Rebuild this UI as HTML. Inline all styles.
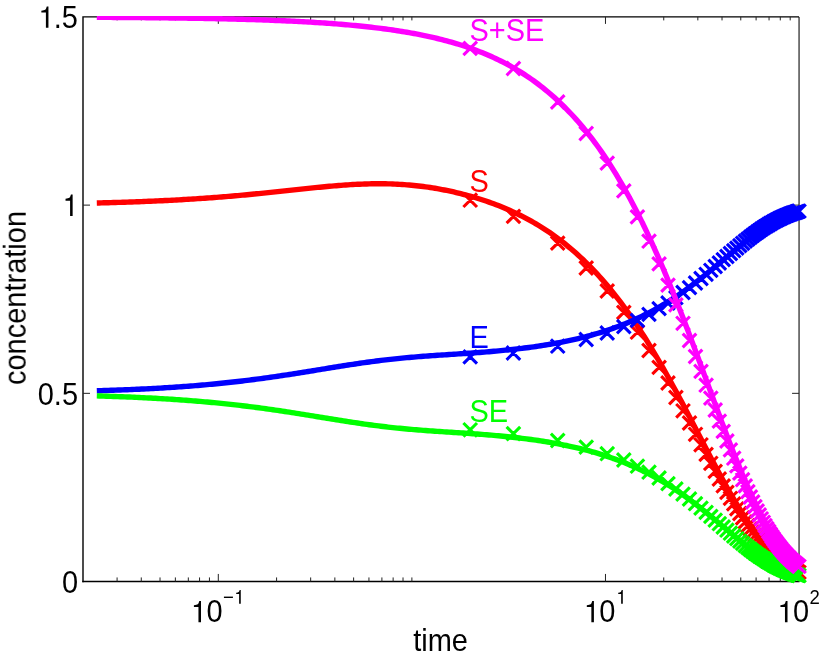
<!DOCTYPE html>
<html><head><meta charset="utf-8"><title>chart</title>
<style>
html,body{margin:0;padding:0;background:#fff;}
body{width:830px;height:659px;overflow:hidden;}
svg{display:block;}
text{font-family:"Liberation Sans",sans-serif;}
</style></head><body>
<svg width="830" height="659" viewBox="0 0 830 659">
<rect width="830" height="659" fill="#fff"/>
<clipPath id="c"><rect x="83.0" y="15.899999999999999" width="716.05" height="565.65"/></clipPath>
<g fill="none" stroke="#000">
<path d="M83.0,582.25V16.9H799.05" stroke-width="1.4"/>
<path d="M82.3,581.55H799.55" stroke-width="1.4"/>
<path d="M799.05,16.9V581.55" stroke-width="1.05"/>
<path d="M117.09,581.55v-4.1M117.09,16.90v3.5M141.27,581.55v-4.1M141.27,16.90v3.5M160.03,581.55v-4.1M160.03,16.90v3.5M175.36,581.55v-4.1M175.36,16.90v3.5M188.32,581.55v-4.1M188.32,16.90v3.5M199.55,581.55v-4.1M199.55,16.90v3.5M209.45,581.55v-4.1M209.45,16.90v3.5M218.31,581.55v-7.6M218.31,16.90v7.0M276.58,581.55v-4.1M276.58,16.90v3.5M310.67,581.55v-4.1M310.67,16.90v3.5M334.85,581.55v-4.1M334.85,16.90v3.5M353.61,581.55v-4.1M353.61,16.90v3.5M368.94,581.55v-4.1M368.94,16.90v3.5M381.90,581.55v-4.1M381.90,16.90v3.5M393.13,581.55v-4.1M393.13,16.90v3.5M403.03,581.55v-4.1M403.03,16.90v3.5M411.89,581.55v-4.1M411.89,16.90v3.5M605.47,581.55v-7.6M605.47,16.90v7.0M663.74,581.55v-4.1M663.74,16.90v3.5M697.83,581.55v-4.1M697.83,16.90v3.5M722.02,581.55v-4.1M722.02,16.90v3.5M740.78,581.55v-4.1M740.78,16.90v3.5M756.10,581.55v-4.1M756.10,16.90v3.5M769.06,581.55v-4.1M769.06,16.90v3.5M780.29,581.55v-4.1M780.29,16.90v3.5M790.19,581.55v-4.1M790.19,16.90v3.5M83.00,393.33h7.0M799.05,393.33h-7.0M83.00,205.12h7.0M799.05,205.12h-7.0" stroke-width="1" stroke="#222"/>
</g>
<g fill="none">
<path d="M96.80,202.99 L99.15,202.93 L101.50,202.87 L103.85,202.81 L106.19,202.75 L108.54,202.68 L110.89,202.62 L113.24,202.55 L115.59,202.48 L117.94,202.41 L120.29,202.34 L122.64,202.26 L124.98,202.19 L127.33,202.11 L129.68,202.03 L132.03,201.95 L134.38,201.86 L136.73,201.78 L139.08,201.69 L141.42,201.60 L143.77,201.51 L146.12,201.41 L148.47,201.32 L150.82,201.22 L153.17,201.11 L155.52,201.01 L157.87,200.90 L160.21,200.80 L162.56,200.68 L164.91,200.57 L167.26,200.45 L169.61,200.33 L171.96,200.21 L174.31,200.09 L176.65,199.96 L179.00,199.83 L181.35,199.70 L183.70,199.56 L186.05,199.42 L188.40,199.28 L190.75,199.13 L193.10,198.99 L195.44,198.84 L197.79,198.68 L200.14,198.52 L202.49,198.36 L204.84,198.20 L207.19,198.03 L209.54,197.86 L211.88,197.69 L214.23,197.52 L216.58,197.34 L218.93,197.15 L221.28,196.97 L223.63,196.78 L225.98,196.59 L228.33,196.39 L230.67,196.19 L233.02,195.99 L235.37,195.79 L237.72,195.58 L240.07,195.37 L242.42,195.15 L244.77,194.94 L247.11,194.72 L249.46,194.50 L251.81,194.27 L254.16,194.04 L256.51,193.81 L258.86,193.58 L261.21,193.34 L263.56,193.11 L265.90,192.87 L268.25,192.62 L270.60,192.38 L272.95,192.14 L275.30,191.89 L277.65,191.64 L280.00,191.39 L282.34,191.14 L284.69,190.89 L287.04,190.64 L289.39,190.38 L291.74,190.13 L294.09,189.88 L296.44,189.63 L298.78,189.37 L301.13,189.12 L303.48,188.87 L305.83,188.63 L308.18,188.38 L310.53,188.14 L312.88,187.89 L315.23,187.66 L317.57,187.42 L319.92,187.19 L322.27,186.96 L324.62,186.74 L326.97,186.52 L329.32,186.30 L331.67,186.10 L334.01,185.89 L336.36,185.70 L338.71,185.51 L341.06,185.33 L343.41,185.15 L345.76,184.99 L348.11,184.83 L350.46,184.68 L352.80,184.54 L355.15,184.41 L357.50,184.29 L359.85,184.18 L362.20,184.09 L364.55,184.00 L366.90,183.93 L369.24,183.86 L371.59,183.82 L373.94,183.78 L376.29,183.76 L378.64,183.75 L380.99,183.75 L383.34,183.77 L385.69,183.81 L388.03,183.86 L390.38,183.92 L392.73,184.01 L395.08,184.10 L397.43,184.21 L399.78,184.34 L402.13,184.49 L404.47,184.65 L406.82,184.83 L409.17,185.02 L411.52,185.23 L413.87,185.46 L416.22,185.71 L418.57,185.97 L420.92,186.25 L423.26,186.55 L425.61,186.86 L427.96,187.19 L430.31,187.54 L432.66,187.91 L435.01,188.29 L437.36,188.69 L439.70,189.11 L442.05,189.54 L444.40,190.00 L446.75,190.47 L449.10,190.95 L451.45,191.46 L453.80,191.98 L456.15,192.53 L458.49,193.09 L460.84,193.66 L463.19,194.26 L465.54,194.87 L467.89,195.51 L470.24,196.16 L472.59,196.83 L474.93,197.53 L477.28,198.24 L479.63,198.97 L481.98,199.72 L484.33,200.50 L486.68,201.29 L489.03,202.11 L491.38,202.95 L493.72,203.81 L496.07,204.69 L498.42,205.60 L500.77,206.54 L503.12,207.50 L505.47,208.48 L507.82,209.49 L510.16,210.52 L512.51,211.59 L514.86,212.68 L517.21,213.80 L519.56,214.95 L521.91,216.13 L524.26,217.33 L526.61,218.57 L528.95,219.84 L531.30,221.15 L533.65,222.49 L536.00,223.86 L538.35,225.26 L540.70,226.70 L543.05,228.18 L545.39,229.70 L547.74,231.25 L550.09,232.84 L552.44,234.47 L554.79,236.14 L557.14,237.85 L559.49,239.60 L561.84,241.39 L564.18,243.23 L566.53,245.11 L568.88,247.04 L571.23,249.01 L573.58,251.03 L575.93,253.09 L578.28,255.20 L580.62,257.37 L582.97,259.58 L585.32,261.84 L587.67,264.15 L590.02,266.51 L592.37,268.93 L594.72,271.40 L597.07,273.92 L599.41,276.50 L601.76,279.13 L604.11,281.82 L606.46,284.56 L608.81,287.36 L611.16,290.22 L613.51,293.13 L615.85,296.11 L618.20,299.14 L620.55,302.22 L622.90,305.37 L625.25,308.58 L627.60,311.84 L629.95,315.16 L632.29,318.55 L634.64,321.99 L636.99,325.49 L639.34,329.04 L641.69,332.66 L644.04,336.33 L646.39,340.05 L648.74,343.84 L651.08,347.67 L653.43,351.56 L655.78,355.51 L658.13,359.50 L660.48,363.54 L662.83,367.64 L665.18,371.77 L667.52,375.96 L669.87,380.18 L672.22,384.45 L674.57,388.75 L676.92,393.09 L679.27,397.46 L681.62,401.86 L683.97,406.29 L686.31,410.74 L688.66,415.21 L691.01,419.70 L693.36,424.20 L695.71,428.71 L698.06,433.22 L700.41,437.74 L702.75,442.25 L705.10,446.75 L707.45,451.24 L709.80,455.72 L712.15,460.17 L714.50,464.59 L716.85,468.98 L719.20,473.34 L721.54,477.65 L723.89,481.92 L726.24,486.13 L728.59,490.29 L730.94,494.38 L733.29,498.41 L735.64,502.36 L737.98,506.24 L740.33,510.04 L742.68,513.75 L745.03,517.37 L747.38,520.91 L749.73,524.34 L752.08,527.67 L754.43,530.90 L756.77,534.03 L759.12,537.05 L761.47,539.95 L763.82,542.75 L766.17,545.43 L768.52,548.00 L770.87,550.45 L773.21,552.79 L775.56,555.01 L777.91,557.12 L780.26,559.11 L782.61,561.00 L784.96,562.77 L787.31,564.44 L789.66,566.00 L792.00,567.45 L794.35,568.81 L796.70,570.07 L799.05,571.24" stroke="#ff0000" stroke-width="5.4" stroke-linejoin="round" clip-path="url(#c)"/>
<path d="M463.4,193.4l13.6,13.6m0,-13.6l-13.6,13.6M506.6,209.6l13.6,13.6m0,-13.6l-13.6,13.6M550.9,236.3l13.6,13.6m0,-13.6l-13.6,13.6M579.4,261.2l13.6,13.6m0,-13.6l-13.6,13.6M600.4,284.2l13.6,13.6m0,-13.6l-13.6,13.6M617.0,305.6l13.6,13.6m0,-13.6l-13.6,13.6M630.6,325.4l13.6,13.6m0,-13.6l-13.6,13.6M642.2,343.7l13.6,13.6m0,-13.6l-13.6,13.6M652.3,360.6l13.6,13.6m0,-13.6l-13.6,13.6M661.2,376.2l13.6,13.6m0,-13.6l-13.6,13.6M669.1,390.7l13.6,13.6m0,-13.6l-13.6,13.6M676.2,404.0l13.6,13.6m0,-13.6l-13.6,13.6M682.7,416.2l13.6,13.6m0,-13.6l-13.6,13.6M688.7,427.5l13.6,13.6m0,-13.6l-13.6,13.6M694.2,438.0l13.6,13.6m0,-13.6l-13.6,13.6M699.3,447.6l13.6,13.6m0,-13.6l-13.6,13.6M704.0,456.5l13.6,13.6m0,-13.6l-13.6,13.6M708.4,464.6l13.6,13.6m0,-13.6l-13.6,13.6M712.5,472.2l13.6,13.6m0,-13.6l-13.6,13.6M716.4,479.1l13.6,13.6m0,-13.6l-13.6,13.6M720.1,485.6l13.6,13.6m0,-13.6l-13.6,13.6M723.6,491.5l13.6,13.6m0,-13.6l-13.6,13.6M726.9,497.0l13.6,13.6m0,-13.6l-13.6,13.6M730.0,502.0l13.6,13.6m0,-13.6l-13.6,13.6M733.0,506.7l13.6,13.6m0,-13.6l-13.6,13.6M735.8,511.1l13.6,13.6m0,-13.6l-13.6,13.6M738.5,515.1l13.6,13.6m0,-13.6l-13.6,13.6M741.1,518.8l13.6,13.6m0,-13.6l-13.6,13.6M743.6,522.2l13.6,13.6m0,-13.6l-13.6,13.6M745.9,525.4l13.6,13.6m0,-13.6l-13.6,13.6M748.2,528.4l13.6,13.6m0,-13.6l-13.6,13.6M750.4,531.1l13.6,13.6m0,-13.6l-13.6,13.6M752.5,533.7l13.6,13.6m0,-13.6l-13.6,13.6M754.5,536.1l13.6,13.6m0,-13.6l-13.6,13.6M756.5,538.3l13.6,13.6m0,-13.6l-13.6,13.6M758.3,540.4l13.6,13.6m0,-13.6l-13.6,13.6M760.1,542.3l13.6,13.6m0,-13.6l-13.6,13.6M761.9,544.1l13.6,13.6m0,-13.6l-13.6,13.6M763.6,545.7l13.6,13.6m0,-13.6l-13.6,13.6M765.2,547.3l13.6,13.6m0,-13.6l-13.6,13.6M766.8,548.8l13.6,13.6m0,-13.6l-13.6,13.6M768.3,550.1l13.6,13.6m0,-13.6l-13.6,13.6M769.8,551.4l13.6,13.6m0,-13.6l-13.6,13.6M771.3,552.6l13.6,13.6m0,-13.6l-13.6,13.6M772.7,553.7l13.6,13.6m0,-13.6l-13.6,13.6M774.0,554.8l13.6,13.6m0,-13.6l-13.6,13.6M775.3,555.7l13.6,13.6m0,-13.6l-13.6,13.6M776.6,556.7l13.6,13.6m0,-13.6l-13.6,13.6M777.8,557.5l13.6,13.6m0,-13.6l-13.6,13.6M779.1,558.3l13.6,13.6m0,-13.6l-13.6,13.6M780.2,559.1l13.6,13.6m0,-13.6l-13.6,13.6M781.4,559.8l13.6,13.6m0,-13.6l-13.6,13.6M782.5,560.5l13.6,13.6m0,-13.6l-13.6,13.6M783.6,561.1l13.6,13.6m0,-13.6l-13.6,13.6M784.6,561.7l13.6,13.6m0,-13.6l-13.6,13.6M785.6,562.3l13.6,13.6m0,-13.6l-13.6,13.6M786.6,562.9l13.6,13.6m0,-13.6l-13.6,13.6M787.6,563.4l13.6,13.6m0,-13.6l-13.6,13.6M788.6,563.8l13.6,13.6m0,-13.6l-13.6,13.6M789.5,564.3l13.6,13.6m0,-13.6l-13.6,13.6M790.4,564.7l13.6,13.6m0,-13.6l-13.6,13.6M791.3,565.1l13.6,13.6m0,-13.6l-13.6,13.6M792.2,565.5l13.6,13.6m0,-13.6l-13.6,13.6" stroke="#ff0000" stroke-width="3.1"/>
<path d="M96.80,390.76 L99.15,390.69 L101.50,390.62 L103.85,390.55 L106.19,390.47 L108.54,390.39 L110.89,390.31 L113.24,390.23 L115.59,390.15 L117.94,390.06 L120.29,389.97 L122.64,389.88 L124.98,389.79 L127.33,389.70 L129.68,389.60 L132.03,389.50 L134.38,389.40 L136.73,389.29 L139.08,389.18 L141.42,389.07 L143.77,388.96 L146.12,388.84 L148.47,388.72 L150.82,388.60 L153.17,388.48 L155.52,388.35 L157.87,388.22 L160.21,388.08 L162.56,387.94 L164.91,387.80 L167.26,387.66 L169.61,387.51 L171.96,387.36 L174.31,387.21 L176.65,387.05 L179.00,386.89 L181.35,386.72 L183.70,386.55 L186.05,386.38 L188.40,386.20 L190.75,386.02 L193.10,385.84 L195.44,385.65 L197.79,385.46 L200.14,385.26 L202.49,385.06 L204.84,384.85 L207.19,384.64 L209.54,384.43 L211.88,384.21 L214.23,383.99 L216.58,383.76 L218.93,383.53 L221.28,383.29 L223.63,383.05 L225.98,382.80 L228.33,382.55 L230.67,382.30 L233.02,382.04 L235.37,381.77 L237.72,381.50 L240.07,381.23 L242.42,380.95 L244.77,380.67 L247.11,380.38 L249.46,380.09 L251.81,379.79 L254.16,379.49 L256.51,379.18 L258.86,378.87 L261.21,378.56 L263.56,378.24 L265.90,377.92 L268.25,377.59 L270.60,377.26 L272.95,376.92 L275.30,376.58 L277.65,376.24 L280.00,375.89 L282.34,375.54 L284.69,375.18 L287.04,374.82 L289.39,374.46 L291.74,374.10 L294.09,373.73 L296.44,373.36 L298.78,372.99 L301.13,372.61 L303.48,372.24 L305.83,371.86 L308.18,371.48 L310.53,371.10 L312.88,370.72 L315.23,370.33 L317.57,369.95 L319.92,369.57 L322.27,369.18 L324.62,368.80 L326.97,368.42 L329.32,368.03 L331.67,367.65 L334.01,367.27 L336.36,366.89 L338.71,366.52 L341.06,366.15 L343.41,365.78 L345.76,365.41 L348.11,365.04 L350.46,364.68 L352.80,364.33 L355.15,363.97 L357.50,363.63 L359.85,363.28 L362.20,362.94 L364.55,362.61 L366.90,362.28 L369.24,361.96 L371.59,361.65 L373.94,361.34 L376.29,361.03 L378.64,360.73 L380.99,360.44 L383.34,360.16 L385.69,359.88 L388.03,359.61 L390.38,359.35 L392.73,359.09 L395.08,358.84 L397.43,358.59 L399.78,358.36 L402.13,358.13 L404.47,357.90 L406.82,357.68 L409.17,357.47 L411.52,357.27 L413.87,357.07 L416.22,356.87 L418.57,356.68 L420.92,356.50 L423.26,356.31 L425.61,356.14 L427.96,355.97 L430.31,355.80 L432.66,355.63 L435.01,355.47 L437.36,355.31 L439.70,355.15 L442.05,355.00 L444.40,354.84 L446.75,354.69 L449.10,354.54 L451.45,354.38 L453.80,354.23 L456.15,354.08 L458.49,353.92 L460.84,353.77 L463.19,353.61 L465.54,353.45 L467.89,353.29 L470.24,353.13 L472.59,352.96 L474.93,352.79 L477.28,352.62 L479.63,352.44 L481.98,352.26 L484.33,352.07 L486.68,351.88 L489.03,351.69 L491.38,351.49 L493.72,351.28 L496.07,351.07 L498.42,350.86 L500.77,350.64 L503.12,350.41 L505.47,350.18 L507.82,349.94 L510.16,349.69 L512.51,349.43 L514.86,349.17 L517.21,348.91 L519.56,348.63 L521.91,348.35 L524.26,348.05 L526.61,347.75 L528.95,347.45 L531.30,347.13 L533.65,346.80 L536.00,346.47 L538.35,346.12 L540.70,345.77 L543.05,345.40 L545.39,345.03 L547.74,344.64 L550.09,344.25 L552.44,343.84 L554.79,343.42 L557.14,342.99 L559.49,342.55 L561.84,342.09 L564.18,341.62 L566.53,341.14 L568.88,340.65 L571.23,340.14 L573.58,339.62 L575.93,339.08 L578.28,338.53 L580.62,337.96 L582.97,337.38 L585.32,336.78 L587.67,336.16 L590.02,335.53 L592.37,334.88 L594.72,334.21 L597.07,333.52 L599.41,332.82 L601.76,332.09 L604.11,331.35 L606.46,330.58 L608.81,329.80 L611.16,328.99 L613.51,328.16 L615.85,327.31 L618.20,326.44 L620.55,325.54 L622.90,324.62 L625.25,323.68 L627.60,322.71 L629.95,321.72 L632.29,320.70 L634.64,319.65 L636.99,318.58 L639.34,317.49 L641.69,316.36 L644.04,315.21 L646.39,314.03 L648.74,312.82 L651.08,311.58 L653.43,310.31 L655.78,309.01 L658.13,307.69 L660.48,306.33 L662.83,304.94 L665.18,303.53 L667.52,302.08 L669.87,300.60 L672.22,299.09 L674.57,297.55 L676.92,295.99 L679.27,294.39 L681.62,292.76 L683.97,291.10 L686.31,289.42 L688.66,287.71 L691.01,285.97 L693.36,284.20 L695.71,282.41 L698.06,280.59 L700.41,278.75 L702.75,276.89 L705.10,275.01 L707.45,273.12 L709.80,271.20 L712.15,269.27 L714.50,267.33 L716.85,265.37 L719.20,263.41 L721.54,261.44 L723.89,259.47 L726.24,257.50 L728.59,255.53 L730.94,253.57 L733.29,251.62 L735.64,249.67 L737.98,247.74 L740.33,245.83 L742.68,243.94 L745.03,242.08 L747.38,240.24 L749.73,238.43 L752.08,236.66 L754.43,234.92 L756.77,233.22 L759.12,231.56 L761.47,229.95 L763.82,228.39 L766.17,226.88 L768.52,225.42 L770.87,224.01 L773.21,222.66 L775.56,221.36 L777.91,220.13 L780.26,218.95 L782.61,217.83 L784.96,216.76 L787.31,215.76 L789.66,214.82 L792.00,213.93 L794.35,213.10 L796.70,212.33 L799.05,211.61" stroke="#0000ff" stroke-width="5.4" stroke-linejoin="round" clip-path="url(#c)"/>
<path d="M463.4,350.1l13.6,13.6m0,-13.6l-13.6,13.6M506.6,346.2l13.6,13.6m0,-13.6l-13.6,13.6M550.9,339.4l13.6,13.6m0,-13.6l-13.6,13.6M579.4,332.7l13.6,13.6m0,-13.6l-13.6,13.6M600.4,326.2l13.6,13.6m0,-13.6l-13.6,13.6M617.0,319.8l13.6,13.6m0,-13.6l-13.6,13.6M630.6,313.6l13.6,13.6m0,-13.6l-13.6,13.6M642.2,307.6l13.6,13.6m0,-13.6l-13.6,13.6M652.3,301.8l13.6,13.6m0,-13.6l-13.6,13.6M661.2,296.2l13.6,13.6m0,-13.6l-13.6,13.6M669.1,290.9l13.6,13.6m0,-13.6l-13.6,13.6M676.2,285.7l13.6,13.6m0,-13.6l-13.6,13.6M682.7,280.8l13.6,13.6m0,-13.6l-13.6,13.6M688.7,276.2l13.6,13.6m0,-13.6l-13.6,13.6M694.2,271.7l13.6,13.6m0,-13.6l-13.6,13.6M699.3,267.5l13.6,13.6m0,-13.6l-13.6,13.6M704.0,263.5l13.6,13.6m0,-13.6l-13.6,13.6M708.4,259.7l13.6,13.6m0,-13.6l-13.6,13.6M712.5,256.2l13.6,13.6m0,-13.6l-13.6,13.6M716.4,252.8l13.6,13.6m0,-13.6l-13.6,13.6M720.1,249.7l13.6,13.6m0,-13.6l-13.6,13.6M723.6,246.7l13.6,13.6m0,-13.6l-13.6,13.6M726.9,243.9l13.6,13.6m0,-13.6l-13.6,13.6M730.0,241.3l13.6,13.6m0,-13.6l-13.6,13.6M733.0,238.8l13.6,13.6m0,-13.6l-13.6,13.6M735.8,236.5l13.6,13.6m0,-13.6l-13.6,13.6M738.5,234.3l13.6,13.6m0,-13.6l-13.6,13.6M741.1,232.3l13.6,13.6m0,-13.6l-13.6,13.6M743.6,230.3l13.6,13.6m0,-13.6l-13.6,13.6M745.9,228.6l13.6,13.6m0,-13.6l-13.6,13.6M748.2,226.9l13.6,13.6m0,-13.6l-13.6,13.6M750.4,225.3l13.6,13.6m0,-13.6l-13.6,13.6M752.5,223.8l13.6,13.6m0,-13.6l-13.6,13.6M754.5,222.4l13.6,13.6m0,-13.6l-13.6,13.6M756.5,221.1l13.6,13.6m0,-13.6l-13.6,13.6M758.3,219.9l13.6,13.6m0,-13.6l-13.6,13.6M760.1,218.8l13.6,13.6m0,-13.6l-13.6,13.6M761.9,217.7l13.6,13.6m0,-13.6l-13.6,13.6M763.6,216.7l13.6,13.6m0,-13.6l-13.6,13.6M765.2,215.8l13.6,13.6m0,-13.6l-13.6,13.6M766.8,214.9l13.6,13.6m0,-13.6l-13.6,13.6M768.3,214.0l13.6,13.6m0,-13.6l-13.6,13.6M769.8,213.3l13.6,13.6m0,-13.6l-13.6,13.6M771.3,212.5l13.6,13.6m0,-13.6l-13.6,13.6M772.7,211.8l13.6,13.6m0,-13.6l-13.6,13.6M774.0,211.2l13.6,13.6m0,-13.6l-13.6,13.6M775.3,210.6l13.6,13.6m0,-13.6l-13.6,13.6M776.6,210.0l13.6,13.6m0,-13.6l-13.6,13.6M777.8,209.5l13.6,13.6m0,-13.6l-13.6,13.6M779.1,208.9l13.6,13.6m0,-13.6l-13.6,13.6M780.2,208.5l13.6,13.6m0,-13.6l-13.6,13.6M781.4,208.0l13.6,13.6m0,-13.6l-13.6,13.6M782.5,207.6l13.6,13.6m0,-13.6l-13.6,13.6M783.6,207.2l13.6,13.6m0,-13.6l-13.6,13.6M784.6,206.8l13.6,13.6m0,-13.6l-13.6,13.6M785.6,206.4l13.6,13.6m0,-13.6l-13.6,13.6M786.6,206.1l13.6,13.6m0,-13.6l-13.6,13.6M787.6,205.8l13.6,13.6m0,-13.6l-13.6,13.6M788.6,205.5l13.6,13.6m0,-13.6l-13.6,13.6M789.5,205.2l13.6,13.6m0,-13.6l-13.6,13.6M790.4,204.9l13.6,13.6m0,-13.6l-13.6,13.6M791.3,204.6l13.6,13.6m0,-13.6l-13.6,13.6M792.2,204.4l13.6,13.6m0,-13.6l-13.6,13.6" stroke="#0000ff" stroke-width="3.1"/>
<path d="M96.80,395.90 L99.15,395.97 L101.50,396.04 L103.85,396.12 L106.19,396.19 L108.54,396.27 L110.89,396.35 L113.24,396.43 L115.59,396.52 L117.94,396.60 L120.29,396.69 L122.64,396.78 L124.98,396.88 L127.33,396.97 L129.68,397.07 L132.03,397.17 L134.38,397.27 L136.73,397.38 L139.08,397.48 L141.42,397.60 L143.77,397.71 L146.12,397.83 L148.47,397.94 L150.82,398.07 L153.17,398.19 L155.52,398.32 L157.87,398.45 L160.21,398.58 L162.56,398.72 L164.91,398.86 L167.26,399.01 L169.61,399.15 L171.96,399.31 L174.31,399.46 L176.65,399.62 L179.00,399.78 L181.35,399.94 L183.70,400.11 L186.05,400.29 L188.40,400.46 L190.75,400.64 L193.10,400.83 L195.44,401.02 L197.79,401.21 L200.14,401.41 L202.49,401.61 L204.84,401.82 L207.19,402.03 L209.54,402.24 L211.88,402.46 L214.23,402.68 L216.58,402.91 L218.93,403.14 L221.28,403.38 L223.63,403.62 L225.98,403.86 L228.33,404.11 L230.67,404.37 L233.02,404.63 L235.37,404.89 L237.72,405.16 L240.07,405.44 L242.42,405.71 L244.77,406.00 L247.11,406.29 L249.46,406.58 L251.81,406.87 L254.16,407.18 L256.51,407.48 L258.86,407.79 L261.21,408.11 L263.56,408.43 L265.90,408.75 L268.25,409.08 L270.60,409.41 L272.95,409.75 L275.30,410.09 L277.65,410.43 L280.00,410.78 L282.34,411.13 L284.69,411.49 L287.04,411.84 L289.39,412.20 L291.74,412.57 L294.09,412.94 L296.44,413.31 L298.78,413.68 L301.13,414.05 L303.48,414.43 L305.83,414.81 L308.18,415.19 L310.53,415.57 L312.88,415.95 L315.23,416.33 L317.57,416.72 L319.92,417.10 L322.27,417.48 L324.62,417.87 L326.97,418.25 L329.32,418.63 L331.67,419.01 L334.01,419.39 L336.36,419.77 L338.71,420.15 L341.06,420.52 L343.41,420.89 L345.76,421.26 L348.11,421.62 L350.46,421.98 L352.80,422.34 L355.15,422.69 L357.50,423.04 L359.85,423.38 L362.20,423.72 L364.55,424.06 L366.90,424.38 L369.24,424.71 L371.59,425.02 L373.94,425.33 L376.29,425.64 L378.64,425.93 L380.99,426.22 L383.34,426.51 L385.69,426.79 L388.03,427.06 L390.38,427.32 L392.73,427.58 L395.08,427.83 L397.43,428.07 L399.78,428.31 L402.13,428.54 L404.47,428.76 L406.82,428.98 L409.17,429.19 L411.52,429.40 L413.87,429.60 L416.22,429.80 L418.57,429.99 L420.92,430.17 L423.26,430.35 L425.61,430.53 L427.96,430.70 L430.31,430.87 L432.66,431.03 L435.01,431.20 L437.36,431.36 L439.70,431.51 L442.05,431.67 L444.40,431.82 L446.75,431.98 L449.10,432.13 L451.45,432.28 L453.80,432.44 L456.15,432.59 L458.49,432.74 L460.84,432.90 L463.19,433.06 L465.54,433.22 L467.89,433.38 L470.24,433.54 L472.59,433.71 L474.93,433.88 L477.28,434.05 L479.63,434.23 L481.98,434.41 L484.33,434.59 L486.68,434.78 L489.03,434.98 L491.38,435.18 L493.72,435.38 L496.07,435.59 L498.42,435.81 L500.77,436.03 L503.12,436.26 L505.47,436.49 L507.82,436.73 L510.16,436.98 L512.51,437.23 L514.86,437.49 L517.21,437.76 L519.56,438.04 L521.91,438.32 L524.26,438.61 L526.61,438.91 L528.95,439.22 L531.30,439.54 L533.65,439.86 L536.00,440.20 L538.35,440.54 L540.70,440.90 L543.05,441.26 L545.39,441.64 L547.74,442.02 L550.09,442.42 L552.44,442.83 L554.79,443.25 L557.14,443.68 L559.49,444.12 L561.84,444.58 L564.18,445.04 L566.53,445.52 L568.88,446.02 L571.23,446.53 L573.58,447.05 L575.93,447.59 L578.28,448.14 L580.62,448.71 L582.97,449.29 L585.32,449.89 L587.67,450.51 L590.02,451.14 L592.37,451.79 L594.72,452.46 L597.07,453.15 L599.41,453.85 L601.76,454.58 L604.11,455.32 L606.46,456.09 L608.81,456.87 L611.16,457.68 L613.51,458.51 L615.85,459.36 L618.20,460.23 L620.55,461.12 L622.90,462.04 L625.25,462.99 L627.60,463.96 L629.95,464.95 L632.29,465.97 L634.64,467.01 L636.99,468.08 L639.34,469.18 L641.69,470.31 L644.04,471.46 L646.39,472.64 L648.74,473.85 L651.08,475.09 L653.43,476.36 L655.78,477.65 L658.13,478.98 L660.48,480.34 L662.83,481.72 L665.18,483.14 L667.52,484.59 L669.87,486.07 L672.22,487.57 L674.57,489.11 L676.92,490.68 L679.27,492.28 L681.62,493.91 L683.97,495.56 L686.31,497.25 L688.66,498.96 L691.01,500.70 L693.36,502.47 L695.71,504.26 L698.06,506.07 L700.41,507.91 L702.75,509.77 L705.10,511.65 L707.45,513.55 L709.80,515.47 L712.15,517.40 L714.50,519.34 L716.85,521.29 L719.20,523.25 L721.54,525.22 L723.89,527.19 L726.24,529.16 L728.59,531.13 L730.94,533.10 L733.29,535.05 L735.64,536.99 L737.98,538.92 L740.33,540.83 L742.68,542.72 L745.03,544.59 L747.38,546.43 L749.73,548.24 L752.08,550.01 L754.43,551.75 L756.77,553.45 L759.12,555.10 L761.47,556.71 L763.82,558.27 L766.17,559.79 L768.52,561.25 L770.87,562.66 L773.21,564.01 L775.56,565.30 L777.91,566.54 L780.26,567.72 L782.61,568.84 L784.96,569.90 L787.31,570.91 L789.66,571.85 L792.00,572.74 L794.35,573.57 L796.70,574.34 L799.05,575.06" stroke="#00ff00" stroke-width="5.4" stroke-linejoin="round" clip-path="url(#c)"/>
<path d="M463.4,423.0l13.6,13.6m0,-13.6l-13.6,13.6M506.6,426.9l13.6,13.6m0,-13.6l-13.6,13.6M550.9,433.7l13.6,13.6m0,-13.6l-13.6,13.6M579.4,440.3l13.6,13.6m0,-13.6l-13.6,13.6M600.4,446.9l13.6,13.6m0,-13.6l-13.6,13.6M617.0,453.2l13.6,13.6m0,-13.6l-13.6,13.6M630.6,459.4l13.6,13.6m0,-13.6l-13.6,13.6M642.2,465.4l13.6,13.6m0,-13.6l-13.6,13.6M652.3,471.2l13.6,13.6m0,-13.6l-13.6,13.6M661.2,476.8l13.6,13.6m0,-13.6l-13.6,13.6M669.1,482.2l13.6,13.6m0,-13.6l-13.6,13.6M676.2,487.3l13.6,13.6m0,-13.6l-13.6,13.6M682.7,492.2l13.6,13.6m0,-13.6l-13.6,13.6M688.7,496.9l13.6,13.6m0,-13.6l-13.6,13.6M694.2,501.3l13.6,13.6m0,-13.6l-13.6,13.6M699.3,505.6l13.6,13.6m0,-13.6l-13.6,13.6M704.0,509.6l13.6,13.6m0,-13.6l-13.6,13.6M708.4,513.3l13.6,13.6m0,-13.6l-13.6,13.6M712.5,516.9l13.6,13.6m0,-13.6l-13.6,13.6M716.4,520.2l13.6,13.6m0,-13.6l-13.6,13.6M720.1,523.4l13.6,13.6m0,-13.6l-13.6,13.6M723.6,526.4l13.6,13.6m0,-13.6l-13.6,13.6M726.9,529.2l13.6,13.6m0,-13.6l-13.6,13.6M730.0,531.8l13.6,13.6m0,-13.6l-13.6,13.6M733.0,534.3l13.6,13.6m0,-13.6l-13.6,13.6M735.8,536.6l13.6,13.6m0,-13.6l-13.6,13.6M738.5,538.8l13.6,13.6m0,-13.6l-13.6,13.6M741.1,540.8l13.6,13.6m0,-13.6l-13.6,13.6M743.6,542.7l13.6,13.6m0,-13.6l-13.6,13.6M745.9,544.5l13.6,13.6m0,-13.6l-13.6,13.6M748.2,546.2l13.6,13.6m0,-13.6l-13.6,13.6M750.4,547.8l13.6,13.6m0,-13.6l-13.6,13.6M752.5,549.2l13.6,13.6m0,-13.6l-13.6,13.6M754.5,550.6l13.6,13.6m0,-13.6l-13.6,13.6M756.5,551.9l13.6,13.6m0,-13.6l-13.6,13.6M758.3,553.1l13.6,13.6m0,-13.6l-13.6,13.6M760.1,554.3l13.6,13.6m0,-13.6l-13.6,13.6M761.9,555.4l13.6,13.6m0,-13.6l-13.6,13.6M763.6,556.4l13.6,13.6m0,-13.6l-13.6,13.6M765.2,557.3l13.6,13.6m0,-13.6l-13.6,13.6M766.8,558.2l13.6,13.6m0,-13.6l-13.6,13.6M768.3,559.0l13.6,13.6m0,-13.6l-13.6,13.6M769.8,559.8l13.6,13.6m0,-13.6l-13.6,13.6M771.3,560.5l13.6,13.6m0,-13.6l-13.6,13.6M772.7,561.2l13.6,13.6m0,-13.6l-13.6,13.6M774.0,561.9l13.6,13.6m0,-13.6l-13.6,13.6M775.3,562.5l13.6,13.6m0,-13.6l-13.6,13.6M776.6,563.1l13.6,13.6m0,-13.6l-13.6,13.6M777.8,563.6l13.6,13.6m0,-13.6l-13.6,13.6M779.1,564.1l13.6,13.6m0,-13.6l-13.6,13.6M780.2,564.6l13.6,13.6m0,-13.6l-13.6,13.6M781.4,565.1l13.6,13.6m0,-13.6l-13.6,13.6M782.5,565.5l13.6,13.6m0,-13.6l-13.6,13.6M783.6,565.9l13.6,13.6m0,-13.6l-13.6,13.6M784.6,566.3l13.6,13.6m0,-13.6l-13.6,13.6M785.6,566.6l13.6,13.6m0,-13.6l-13.6,13.6M786.6,567.0l13.6,13.6m0,-13.6l-13.6,13.6M787.6,567.3l13.6,13.6m0,-13.6l-13.6,13.6M788.6,567.6l13.6,13.6m0,-13.6l-13.6,13.6M789.5,567.9l13.6,13.6m0,-13.6l-13.6,13.6M790.4,568.2l13.6,13.6m0,-13.6l-13.6,13.6M791.3,568.4l13.6,13.6m0,-13.6l-13.6,13.6M792.2,568.7l13.6,13.6m0,-13.6l-13.6,13.6" stroke="#00ff00" stroke-width="3.1"/>
<path d="M96.80,17.34 L99.15,17.35 L101.50,17.37 L103.85,17.38 L106.19,17.39 L108.54,17.41 L110.89,17.42 L113.24,17.43 L115.59,17.45 L117.94,17.47 L120.29,17.48 L122.64,17.50 L124.98,17.51 L127.33,17.53 L129.68,17.55 L132.03,17.57 L134.38,17.59 L136.73,17.61 L139.08,17.63 L141.42,17.65 L143.77,17.67 L146.12,17.69 L148.47,17.71 L150.82,17.73 L153.17,17.76 L155.52,17.78 L157.87,17.80 L160.21,17.83 L162.56,17.86 L164.91,17.88 L167.26,17.91 L169.61,17.94 L171.96,17.97 L174.31,18.00 L176.65,18.03 L179.00,18.06 L181.35,18.09 L183.70,18.12 L186.05,18.16 L188.40,18.19 L190.75,18.23 L193.10,18.27 L195.44,18.30 L197.79,18.34 L200.14,18.38 L202.49,18.42 L204.84,18.47 L207.19,18.51 L209.54,18.55 L211.88,18.60 L214.23,18.65 L216.58,18.69 L218.93,18.74 L221.28,18.80 L223.63,18.85 L225.98,18.90 L228.33,18.96 L230.67,19.01 L233.02,19.07 L235.37,19.13 L237.72,19.19 L240.07,19.25 L242.42,19.32 L244.77,19.39 L247.11,19.45 L249.46,19.52 L251.81,19.60 L254.16,19.67 L256.51,19.74 L258.86,19.82 L261.21,19.90 L263.56,19.98 L265.90,20.07 L268.25,20.15 L270.60,20.24 L272.95,20.33 L275.30,20.43 L277.65,20.52 L280.00,20.62 L282.34,20.72 L284.69,20.82 L287.04,20.93 L289.39,21.04 L291.74,21.15 L294.09,21.26 L296.44,21.38 L298.78,21.50 L301.13,21.63 L303.48,21.75 L305.83,21.88 L308.18,22.02 L310.53,22.15 L312.88,22.30 L315.23,22.44 L317.57,22.59 L319.92,22.74 L322.27,22.90 L324.62,23.06 L326.97,23.22 L329.32,23.39 L331.67,23.56 L334.01,23.74 L336.36,23.92 L338.71,24.11 L341.06,24.30 L343.41,24.49 L345.76,24.69 L348.11,24.90 L350.46,25.11 L352.80,25.33 L355.15,25.55 L357.50,25.78 L359.85,26.02 L362.20,26.26 L364.55,26.51 L366.90,26.76 L369.24,27.02 L371.59,27.29 L373.94,27.56 L376.29,27.84 L378.64,28.13 L380.99,28.43 L383.34,28.73 L385.69,29.05 L388.03,29.37 L390.38,29.70 L392.73,30.03 L395.08,30.38 L397.43,30.74 L399.78,31.10 L402.13,31.48 L404.47,31.86 L406.82,32.26 L409.17,32.67 L411.52,33.08 L413.87,33.51 L416.22,33.95 L418.57,34.41 L420.92,34.87 L423.26,35.35 L425.61,35.84 L427.96,36.34 L430.31,36.86 L432.66,37.39 L435.01,37.94 L437.36,38.50 L439.70,39.07 L442.05,39.66 L444.40,40.27 L446.75,40.89 L449.10,41.54 L451.45,42.19 L453.80,42.87 L456.15,43.57 L458.49,44.28 L460.84,45.01 L463.19,45.77 L465.54,46.54 L467.89,47.34 L470.24,48.15 L472.59,48.99 L474.93,49.85 L477.28,50.74 L479.63,51.65 L481.98,52.58 L484.33,53.54 L486.68,54.53 L489.03,55.54 L491.38,56.58 L493.72,57.64 L496.07,58.74 L498.42,59.86 L500.77,61.02 L503.12,62.20 L505.47,63.42 L507.82,64.67 L510.16,65.95 L512.51,67.27 L514.86,68.62 L517.21,70.01 L519.56,71.43 L521.91,72.90 L524.26,74.40 L526.61,75.94 L528.95,77.52 L531.30,79.14 L533.65,80.80 L536.00,82.51 L538.35,84.26 L540.70,86.05 L543.05,87.89 L545.39,89.78 L547.74,91.72 L550.09,93.71 L552.44,95.74 L554.79,97.83 L557.14,99.97 L559.49,102.17 L561.84,104.42 L564.18,106.72 L566.53,109.09 L568.88,111.51 L571.23,113.99 L573.58,116.53 L575.93,119.13 L578.28,121.79 L580.62,124.52 L582.97,127.32 L585.32,130.18 L587.67,133.11 L590.02,136.10 L592.37,139.17 L594.72,142.31 L597.07,145.52 L599.41,148.80 L601.76,152.16 L604.11,155.59 L606.46,159.10 L608.81,162.68 L611.16,166.35 L613.51,170.09 L615.85,173.91 L618.20,177.81 L620.55,181.80 L622.90,185.87 L625.25,190.01 L627.60,194.25 L629.95,198.56 L632.29,202.96 L634.64,207.45 L636.99,212.02 L639.34,216.67 L641.69,221.41 L644.04,226.24 L646.39,231.14 L648.74,236.14 L651.08,241.21 L653.43,246.37 L655.78,251.61 L658.13,256.93 L660.48,262.33 L662.83,267.81 L665.18,273.36 L667.52,278.99 L669.87,284.70 L672.22,290.47 L674.57,296.31 L676.92,302.22 L679.27,308.19 L681.62,314.22 L683.97,320.30 L686.31,326.44 L688.66,332.62 L691.01,338.85 L693.36,345.12 L695.71,351.42 L698.06,357.75 L700.41,364.10 L702.75,370.47 L705.10,376.86 L707.45,383.25 L709.80,389.63 L712.15,396.01 L714.50,402.38 L716.85,408.73 L719.20,415.04 L721.54,421.32 L723.89,427.56 L726.24,433.74 L728.59,439.87 L730.94,445.92 L733.29,451.91 L735.64,457.81 L737.98,463.61 L740.33,469.32 L742.68,474.93 L745.03,480.42 L747.38,485.78 L749.73,491.03 L752.08,496.13 L754.43,501.10 L756.77,505.93 L759.12,510.60 L761.47,515.11 L763.82,519.47 L766.17,523.67 L768.52,527.69 L770.87,531.55 L773.21,535.24 L775.56,538.76 L777.91,542.11 L780.26,545.28 L782.61,548.29 L784.96,551.12 L787.31,553.79 L789.66,556.30 L792.00,558.64 L794.35,560.83 L796.70,562.86 L799.05,564.75" stroke="#ff00ff" stroke-width="5.4" stroke-linejoin="round" clip-path="url(#c)"/>
<path d="M463.4,41.6l13.6,13.6m0,-13.6l-13.6,13.6M506.6,61.7l13.6,13.6m0,-13.6l-13.6,13.6M550.9,95.2l13.6,13.6m0,-13.6l-13.6,13.6M579.4,126.7l13.6,13.6m0,-13.6l-13.6,13.6M600.4,156.3l13.6,13.6m0,-13.6l-13.6,13.6M617.0,184.1l13.6,13.6m0,-13.6l-13.6,13.6M630.6,210.1l13.6,13.6m0,-13.6l-13.6,13.6M642.2,234.4l13.6,13.6m0,-13.6l-13.6,13.6M652.3,257.1l13.6,13.6m0,-13.6l-13.6,13.6M661.2,278.3l13.6,13.6m0,-13.6l-13.6,13.6M669.1,298.1l13.6,13.6m0,-13.6l-13.6,13.6M676.2,316.5l13.6,13.6m0,-13.6l-13.6,13.6M682.7,333.7l13.6,13.6m0,-13.6l-13.6,13.6M688.7,349.7l13.6,13.6m0,-13.6l-13.6,13.6M694.2,364.6l13.6,13.6m0,-13.6l-13.6,13.6M699.3,378.4l13.6,13.6m0,-13.6l-13.6,13.6M704.0,391.3l13.6,13.6m0,-13.6l-13.6,13.6M708.4,403.2l13.6,13.6m0,-13.6l-13.6,13.6M712.5,414.3l13.6,13.6m0,-13.6l-13.6,13.6M716.4,424.6l13.6,13.6m0,-13.6l-13.6,13.6M720.1,434.2l13.6,13.6m0,-13.6l-13.6,13.6M723.6,443.1l13.6,13.6m0,-13.6l-13.6,13.6M726.9,451.4l13.6,13.6m0,-13.6l-13.6,13.6M730.0,459.1l13.6,13.6m0,-13.6l-13.6,13.6M733.0,466.3l13.6,13.6m0,-13.6l-13.6,13.6M735.8,472.9l13.6,13.6m0,-13.6l-13.6,13.6M738.5,479.1l13.6,13.6m0,-13.6l-13.6,13.6M741.1,484.9l13.6,13.6m0,-13.6l-13.6,13.6M743.6,490.2l13.6,13.6m0,-13.6l-13.6,13.6M745.9,495.2l13.6,13.6m0,-13.6l-13.6,13.6M748.2,499.8l13.6,13.6m0,-13.6l-13.6,13.6M750.4,504.2l13.6,13.6m0,-13.6l-13.6,13.6M752.5,508.2l13.6,13.6m0,-13.6l-13.6,13.6M754.5,512.0l13.6,13.6m0,-13.6l-13.6,13.6M756.5,515.5l13.6,13.6m0,-13.6l-13.6,13.6M758.3,518.8l13.6,13.6m0,-13.6l-13.6,13.6M760.1,521.8l13.6,13.6m0,-13.6l-13.6,13.6M761.9,524.7l13.6,13.6m0,-13.6l-13.6,13.6M763.6,527.3l13.6,13.6m0,-13.6l-13.6,13.6M765.2,529.9l13.6,13.6m0,-13.6l-13.6,13.6M766.8,532.2l13.6,13.6m0,-13.6l-13.6,13.6M768.3,534.4l13.6,13.6m0,-13.6l-13.6,13.6M769.8,536.4l13.6,13.6m0,-13.6l-13.6,13.6M771.3,538.4l13.6,13.6m0,-13.6l-13.6,13.6M772.7,540.2l13.6,13.6m0,-13.6l-13.6,13.6M774.0,541.9l13.6,13.6m0,-13.6l-13.6,13.6M775.3,543.5l13.6,13.6m0,-13.6l-13.6,13.6M776.6,545.0l13.6,13.6m0,-13.6l-13.6,13.6M777.8,546.4l13.6,13.6m0,-13.6l-13.6,13.6M779.1,547.7l13.6,13.6m0,-13.6l-13.6,13.6M780.2,549.0l13.6,13.6m0,-13.6l-13.6,13.6M781.4,550.1l13.6,13.6m0,-13.6l-13.6,13.6M782.5,551.2l13.6,13.6m0,-13.6l-13.6,13.6M783.6,552.3l13.6,13.6m0,-13.6l-13.6,13.6M784.6,553.3l13.6,13.6m0,-13.6l-13.6,13.6M785.6,554.2l13.6,13.6m0,-13.6l-13.6,13.6M786.6,555.1l13.6,13.6m0,-13.6l-13.6,13.6M787.6,555.9l13.6,13.6m0,-13.6l-13.6,13.6M788.6,556.7l13.6,13.6m0,-13.6l-13.6,13.6M789.5,557.4l13.6,13.6m0,-13.6l-13.6,13.6M790.4,558.1l13.6,13.6m0,-13.6l-13.6,13.6M791.3,558.8l13.6,13.6m0,-13.6l-13.6,13.6M792.2,559.5l13.6,13.6m0,-13.6l-13.6,13.6" stroke="#ff00ff" stroke-width="3.1"/>
</g>
<g fill="#000" opacity="0.999">
<path d="M371,0V-709H313C282,-600 262,-585 126,-568V-505H283V0Z" transform="translate(37.69,27.8) scale(0.02900,0.03016)" stroke="none"/>
<text transform="translate(53.8,27.8) scale(1,1.085)" font-size="29.0px">.5</text>
<path d="M371,0V-709H313C282,-600 262,-585 126,-568V-505H283V0Z" transform="translate(61.88,215.9) scale(0.02900,0.03016)" stroke="none"/>
<text transform="translate(37.7,404.6) scale(1,1.085)" font-size="29.0px">0.5</text>
<text transform="translate(61.9,592.6) scale(1,1.085)" font-size="29.0px">0</text>
<path d="M371,0V-709H313C282,-600 262,-585 126,-568V-505H283V0Z" transform="translate(190.25,622.3) scale(0.02900,0.03016)" stroke="none"/>
<text transform="translate(206.4,622.3) scale(1,1.085)" font-size="29.0px">0</text>
<text transform="translate(223.0,603.7) scale(1,1.085)" font-size="18.6px">−</text>
<path d="M371,0V-709H313C282,-600 262,-585 126,-568V-505H283V0Z" transform="translate(233.86,603.7) scale(0.01860,0.01934)" stroke="none"/>
<path d="M371,0V-709H313C282,-600 262,-585 126,-568V-505H283V0Z" transform="translate(583.15,622.3) scale(0.02900,0.03016)" stroke="none"/>
<text transform="translate(599.3,622.3) scale(1,1.085)" font-size="29.0px">0</text>
<path d="M371,0V-709H313C282,-600 262,-585 126,-568V-505H283V0Z" transform="translate(615.89,603.7) scale(0.01860,0.01934)" stroke="none"/>
<path d="M371,0V-709H313C282,-600 262,-585 126,-568V-505H283V0Z" transform="translate(776.75,622.3) scale(0.02900,0.03016)" stroke="none"/>
<text transform="translate(792.9,622.3) scale(1,1.085)" font-size="29.0px">0</text>
<text transform="translate(809.5,603.7) scale(1,1.085)" font-size="18.6px">2</text>
<text transform="translate(440.6,650.6) scale(1,1.085)" font-size="29.0px" text-anchor="middle">time</text>
<text transform="translate(26.0,298.0) rotate(-90) scale(1,1.085)" font-size="29.0px" text-anchor="middle">concentration</text>
</g>
<g opacity="0.999">
<text transform="translate(469.5,41.3) scale(1,1.085)" font-size="29.0px" fill="#ff00ff">S+SE</text>
<text transform="translate(469.5,192.0) scale(1,1.085)" font-size="29.0px" fill="#ff0000">S</text>
<text transform="translate(469.5,348.0) scale(1,1.085)" font-size="29.0px" fill="#0000ff">E</text>
<text transform="translate(469.5,422.0) scale(1,1.085)" font-size="29.0px" fill="#00ff00">SE</text>
</g>
</svg>
</body></html>
